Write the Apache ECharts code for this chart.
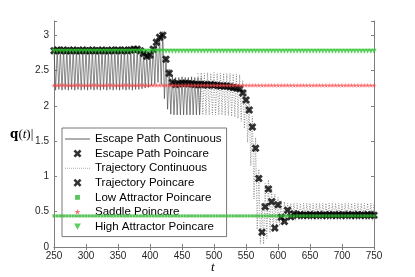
<!DOCTYPE html>
<html><head><meta charset="utf-8">
<script src="https://cdn.jsdelivr.net/npm/echarts@6/dist/echarts.min.js"></script>
<style>html,body{margin:0;padding:0;background:#fff}#c{width:415px;height:277px}</style>
</head><body><div id="c"></div>
<script>
// ---- data ----
const escT = [250,252.5,255,257.5,260,262.5,265,267.5,270,272.5,275,277.5,280,282.5,285,287.5,290,292.5,295,297.5,300,302.5,305,307.5,310,312.5,315,317.5,320,322.5,325,327.5,330,332.5,335,337.5,340,342.5,345,347.5,350,352.5,355,357.5,360,362.5,365,367.5,370,372.5,375,377.5,380,382.5,385,387.5,390,392.5,395,397.5,400,402.5,405,407.5,410,412.5,415,417.5,420,422.5,425,427.5,430,432.5,435,437.5,440,442.5,445,447.5,450,452.5,455,457.5,460,462.5,465,467.5,470,472.5,475,477.5,480];
const escQ = [2.80,2.22,2.80,2.23,2.79,2.22,2.80,2.23,2.80,2.22,2.79,2.23,2.80,2.22,2.80,2.23,2.79,2.22,2.80,2.23,
  2.80,2.22,2.79,2.23,2.80,2.22,2.80,2.23,2.79,2.22,2.80,2.23,2.80,2.22,2.79,2.23,2.80,2.22,2.80,2.23,
  2.80,2.22,2.79,2.23,2.80,2.22,2.80,2.23,2.80,2.22,2.81,2.23,2.81,2.23,2.79,2.24,2.76,2.25,2.73,2.26,
  2.75,2.28,2.84,2.30,2.92,2.33,2.99,2.30,3.05,2.10,2.70,1.95,2.52,1.88,2.43,1.87,2.40,1.87,2.40,1.87,
  2.41,1.87,2.40,1.87,2.40,1.87,2.41,1.87,2.40,1.87,2.40,1.87,2.40];
const trjT = [475,477.5,480,482.5,485,487.5,490,492.5,495,497.5,500,502.5,505,507.5,510,512.5,515,517.5,520,522.5,525,527.5,530,532.5,535,537.5,540,542.5,545,547.5,550,552.5,555,557.5,560,562.5,565,567.5,570,572.5,575,577.5,580,582.5,585,587.5,590,592.5,595,597.5,600,602.5,605,607.5,610,612.5,615,617.5,620,622.5,625,627.5,630,632.5,635,637.5,640,642.5,645,647.5,650,652.5,655,657.5,660,662.5,665,667.5,670,672.5,675,677.5,680,682.5,685,687.5,690,692.5,695,697.5,700,702.5,705,707.5,710,712.5,715,717.5,720,722.5,725,727.5,730,732.5,735,737.5,740,742.5,745,747.5,750];
const trjQ = [2.46,1.87,2.47,1.87,2.46,1.87,2.47,1.87,2.46,1.87,2.47,1.87,2.46,1.87,2.46,1.87,2.46,1.86,2.46,1.86,
  2.46,1.85,2.45,1.84,2.45,1.82,2.44,1.78,2.36,1.68,2.22,1.48,2.05,1.15,1.85,0.68,1.55,0.25,1.10,0.05,
  0.62,0.04,0.90,0.12,0.95,0.20,0.85,0.22,0.75,0.26,0.70,0.30,0.66,0.33,0.64,0.36,0.62,0.38,0.62,0.38,
  0.62,0.38,0.62,0.38,0.62,0.38,0.62,0.38,0.62,0.38,0.62,0.38,0.62,0.38,0.62,0.38,0.62,0.38,0.62,0.38,
  0.62,0.38,0.62,0.38,0.62,0.38,0.62,0.38,0.62,0.38,0.62,0.38,0.62,0.38,0.62,0.38,0.62,0.38,0.62,0.38,
  0.62,0.38,0.62,0.38,0.62,0.38,0.62,0.38,0.62,0.38,0.62];
const escPT = [250,255,260,265,270,275,280,285,290,295,300,305,310,315,320,325,330,335,340,345,350,355,360,365,370,375,380,385,390,395,400,405,410,415,420,425,430,435,440,445,450,455,460,465,470,475];
const escPQ = [2.78,2.79,2.78,2.79,2.78,2.78,2.79,2.78,2.78,2.79,
  2.78,2.78,2.79,2.78,2.78,2.79,2.78,2.78,2.79,2.78,
  2.79,2.78,2.79,2.78,2.79,2.80,2.80,2.78,2.74,2.70,
  2.72,2.80,2.90,2.97,3.00,2.66,2.46,2.33,2.30,2.31,
  2.32,2.32,2.31,2.31,2.30,2.30];
const trjPT = [480,485,490,495,500,505,510,515,520,525,530,535,540,545,550,555,560,565,570,575,580,585,590,595,600,605,610,615,620,625,630,635,640,645,650,655,660,665,670,675,680,685,690,695,700,705,710,715,720,725,730,735,740,745,750];
const trjPQ = [2.30,2.30,2.29,2.30,2.29,2.29,2.28,2.28,2.28,2.27,
  2.26,2.25,2.24,2.18,2.08,1.94,1.70,1.40,0.97,0.21,
  0.57,0.82,0.64,0.27,0.60,0.42,0.36,0.52,0.43,0.47,
  0.45,0.46,0.45,0.45,0.46,0.45,0.45,0.46,0.45,0.45,
  0.46,0.45,0.45,0.46,0.45,0.45,0.46,0.45,0.45,0.46,
  0.45,0.45,0.46,0.45,0.45];
const lowQ = 0.44, saddleQ = 2.29, highQ = 2.77;
const yTicks = [0,0.5,1,1.5,2,2.5,3];
const names = ['Escape Path Continuous','Escape Path Poincare','Trajectory Continuous','Trajectory Poincare','Low Attractor Poincare','Saddle Poincare','High Attractor Poincare'];

const zip = (a,b)=>a.map((t,i)=>[t,b[i]]);
const attT = escPT.concat(trjPT);
const X = 'path://M2.5,0 L5,2.5 L7.5,0 L10,2.5 L7.5,5 L10,7.5 L7.5,10 L5,7.5 L2.5,10 L0,7.5 L2.5,5 L0,2.5 Z';
const STAR = 'path://M50,0 L61,35 L98,35 L68,57 L79,91 L50,70 L21,91 L32,57 L2,35 L39,35 Z';
const box10 = 'path://M0,0 M10,10 ';
const iconX = box10 + 'M2.8,1 L5,3.2 L7.2,1 L9,2.8 L6.8,5 L9,7.2 L7.2,9 L5,6.8 L2.8,9 L1,7.2 L3.2,5 L1,2.8 Z';
const iconSq = box10 + 'M2.6,2.6 L7.4,2.6 L7.4,7.4 L2.6,7.4 Z';
const iconStar = box10 + 'M5,2 L5.66,4.1 L7.88,4.1 L6.08,5.42 L6.74,7.46 L5,6.2 L3.26,7.46 L3.92,5.42 L2.12,4.1 L4.34,4.1 Z';
const iconTri = box10 + 'M1.6,2 L8.4,2 L5,8.2 Z';
const iconLine = 'path://M0,0 M25,10 M0,4.6 L25,4.6 L25,5.4 L0,5.4 Z';
let dots = 'path://M0,0 M25,10 ';
for (let x = 0; x < 25; x += 2) dots += 'M'+x+',4.5 L'+(x+1)+',4.5 L'+(x+1)+',5.5 L'+x+',5.5 Z ';
const axisGray = '#7f7f7f';

const chart = echarts.init(document.getElementById('c'), null, {renderer:'canvas'});
chart.setOption({
  animation:false,
  grid:{left:54,right:41,top:21,bottom:30,containLabel:false},
  xAxis:[{type:'value',min:250,max:750,interval:50,
      axisLine:{lineStyle:{color:axisGray,width:1}},
      axisTick:{inside:true,length:3,lineStyle:{color:axisGray}},
      axisLabel:{fontSize:10,color:'#262626',margin:4,fontFamily:'Liberation Sans, Arial'},
      splitLine:{show:false}},
    {type:'value',position:'top',min:250,max:750,interval:50,
      axisLine:{lineStyle:{color:axisGray}},axisTick:{inside:true,length:3,lineStyle:{color:axisGray}},
      axisLabel:{show:false},splitLine:{show:false}}],
  yAxis:[{type:'value',min:0,max:3.2,interval:0.5,
      axisLine:{show:true,lineStyle:{color:axisGray}},
      axisTick:{show:true,inside:true,length:3,lineStyle:{color:axisGray}},
      axisLabel:{fontSize:10,color:'#262626',margin:5,fontFamily:'Liberation Sans, Arial',
        formatter:v=> yTicks.indexOf(+v.toFixed(2))>=0 ? String(+v.toFixed(2)) : ''},
      splitLine:{show:false}},
    {type:'value',position:'right',min:0,max:3.2,interval:0.5,
      axisLine:{show:true,lineStyle:{color:axisGray}},
      axisTick:{show:true,inside:true,length:3,lineStyle:{color:axisGray}},
      axisLabel:{show:false},splitLine:{show:false}}],
  legend:{orient:'vertical',left:62,top:128,itemWidth:25,itemHeight:10,itemGap:0.6,
    padding:[4,5,3,3],borderColor:'#555',borderWidth:0.8,backgroundColor:'#fff',
    textStyle:{fontSize:11.5,lineHeight:14,color:'#000',fontFamily:'Liberation Sans, Arial'},
    data:[
      {name:names[0],icon:iconLine,itemStyle:{color:'#333'}},
      {name:names[1],icon:iconX},
      {name:names[2],icon:dots,itemStyle:{color:'#aaa'}},
      {name:names[3],icon:iconX},
      {name:names[4],icon:iconSq},
      {name:names[5],icon:iconStar},
      {name:names[6],icon:iconTri}
    ]},
  graphic:[
    {type:'text',left:10,top:128,style:{rich:{
        b:{fontFamily:'DejaVu Serif, Liberation Serif',fontWeight:'bold',fontSize:12,fill:'#000'},
        n:{fontFamily:'Liberation Serif, DejaVu Serif',fontSize:13,fill:'#000'},
        i:{fontFamily:'Liberation Serif, DejaVu Serif',fontStyle:'italic',fontSize:13,fill:'#000'}},
      text:'{b|q}{n|(}{i|t}{n|)|}'}},
    {type:'text',left:211,top:261,style:{text:'t',fontFamily:'Liberation Serif, DejaVu Serif',fontStyle:'italic',fontSize:13,fill:'#000'}}
  ],
  series:[
    {name:names[0],type:'line',data:zip(escT,escQ),showSymbol:false,symbol:'none',
      lineStyle:{color:'#3a3a3a',width:0.6},itemStyle:{color:'#3a3a3a'},z:2},
    {name:names[1],type:'scatter',data:zip(escPT,escPQ),symbol:X,symbolSize:8,itemStyle:{color:'#000'},z:3},
    {name:names[2],type:'line',data:zip(trjT,trjQ),showSymbol:false,symbol:'none',
      lineStyle:{color:'#666',width:0.7,type:[1,1.5]},itemStyle:{color:'#666'},z:2},
    {name:names[3],type:'scatter',data:zip(trjPT,trjPQ),symbol:X,symbolSize:8,itemStyle:{color:'#000'},z:3},
    {name:names[4],type:'scatter',data:attT.map(t=>[t,lowQ]),symbol:'rect',symbolSize:3,itemStyle:{color:'#2fb52f'},z:4},
    {name:names[5],type:'scatter',data:attT.map(t=>[t,saddleQ]),symbol:STAR,symbolSize:5,itemStyle:{color:'#ff4747'},z:4},
    {name:names[6],type:'scatter',data:attT.map(t=>[t,highQ]),symbol:'triangle',symbolRotate:180,symbolSize:5,itemStyle:{color:'#33c433'},z:4}
  ]
});
</script></body></html>
